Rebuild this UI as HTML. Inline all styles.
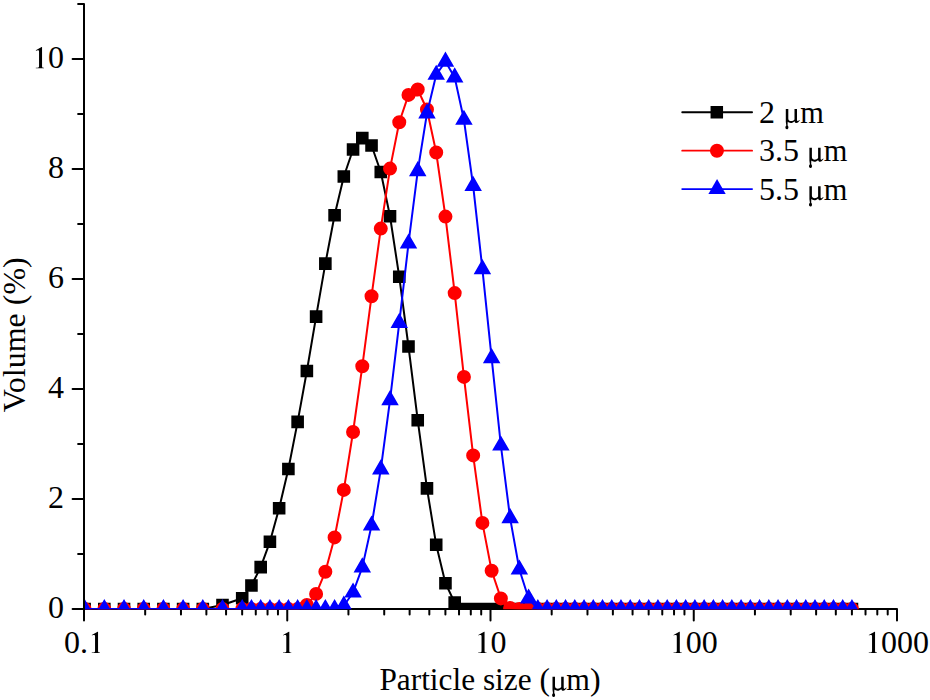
<!DOCTYPE html>
<html><head><meta charset="utf-8"><title>Particle size distribution</title>
<style>html,body{margin:0;padding:0;background:#fff;}body{width:930px;height:700px;overflow:hidden;font-family:"Liberation Serif",serif;}svg{display:block;}</style>
</head><body>
<svg width="930" height="700" viewBox="0 0 930 700">
<defs><clipPath id="c"><rect x="85" y="0" width="812" height="609.3"/></clipPath><path id="mu" d="M0 -13.6L2.5 -13.6L2.5 -4.2C2.5 -2.4 3.8 -1.6 5.3 -1.6C6.6 -1.6 7.9 -2.2 8.7 -3.2L8.7 -13.6L11.2 -13.6L11.2 -2.8C11.2 -1.8 11.6 -1.5 12.2 -1.6L13.8 -2.7L14.1 -2.3C12.9 -0.7 12.1 0.4 10.6 0.4C9.6 0.4 8.9 -0.3 8.7 -1.4C7.7 -0.2 6.4 0.4 5 0.4C3.8 0.4 2.7 -0.1 1.9 -0.8L1.8 2.9C2.9 3.6 3.1 6.7 1.1 6.7C-0.7 6.7 -0.8 4 0.5 3L0 -0.5Z"/><path id="one" d="M10.05 -21.2L10.05 -2C10.05 -0.9 10.6 -0.55 12 -0.5L12 0L3.8 0L3.8 -0.5C6.5 -0.55 7.05 -0.9 7.05 -2L7.05 -16.5C7.05 -17.6 6.6 -18 5.9 -18C5.3 -18 4.6 -17.8 4 -17.6L3.8 -18.1L9.6 -21.2Z"/></defs>
<path d="M84 4V609H897" fill="none" stroke="#000" stroke-width="2.0" stroke-linejoin="miter"/>
<path d="M72.6 609H84M78.1 554H84M72.6 499H84M78.1 444H84M72.6 389H84M78.1 334H84M72.6 279H84M78.1 224H84M72.6 169H84M78.1 114H84M72.6 59H84M78.1 4H84M84 609V620.5M145.18 609V614.6M180.97 609V614.6M206.37 609V614.6M226.07 609V614.6M242.16 609V614.6M255.77 609V614.6M267.55 609V614.6M277.95 609V614.6M287.25 609V620.5M348.43 609V614.6M384.22 609V614.6M409.62 609V614.6M429.32 609V614.6M445.41 609V614.6M459.02 609V614.6M470.8 609V614.6M481.2 609V614.6M490.5 609V620.5M551.68 609V614.6M587.47 609V614.6M612.87 609V614.6M632.57 609V614.6M648.66 609V614.6M662.27 609V614.6M674.05 609V614.6M684.45 609V614.6M693.75 609V620.5M754.93 609V614.6M790.72 609V614.6M816.12 609V614.6M835.82 609V614.6M851.91 609V614.6M865.52 609V614.6M877.3 609V614.6M887.7 609V614.6M897 609V620.5" stroke="#000" stroke-width="2.0" stroke-linecap="round" fill="none"/>
<g clip-path="url(#c)">
<path d="M84.62 609 L104.32 609 L124.02 609 L143.71 609 L163.41 609 L183.11 609 L202.81 609 L222.5 605 L242.2 598.2 L251.44 585.5 L260.68 567.1 L269.92 541.8 L279.15 508.2 L288.39 469 L297.63 421.9 L306.87 371 L316.11 316.6 L325.35 263.6 L334.59 215.3 L343.82 176.5 L353.06 149.5 L362.3 138.1 L371.54 145.5 L380.78 172 L390.02 216.25 L399.26 276.8 L408.49 346.5 L417.73 420.2 L426.97 488.4 L436.21 544.8 L445.45 583.2 L454.69 602.6 L463.93 609 L473.16 609 L482.4 609 L491.64 609 L500.88 609 L510.12 609 L519.36 609 L528.6 609 L537.84 609 L547.07 609 L556.31 609 L565.55 609 L574.79 609 L584.03 609 L593.27 609 L602.51 609 L611.74 609 L620.98 609 L630.22 609 L639.46 609 L648.7 609 L657.94 609 L667.18 609 L676.41 609 L685.65 609 L694.89 609 L704.13 609 L713.37 609 L722.61 609 L731.85 609 L741.08 609 L750.32 609 L759.56 609 L768.8 609 L778.04 609 L787.28 609 L796.52 609 L805.75 609 L814.99 609 L824.23 609 L833.47 609 L842.71 609 L851.95 609" fill="none" stroke="#000" stroke-width="2.0" stroke-linejoin="round"/>
<path d="M78.32 602.7h12.6v12.6h-12.6zM98.02 602.7h12.6v12.6h-12.6zM117.72 602.7h12.6v12.6h-12.6zM137.41 602.7h12.6v12.6h-12.6zM157.11 602.7h12.6v12.6h-12.6zM176.81 602.7h12.6v12.6h-12.6zM196.51 602.7h12.6v12.6h-12.6zM216.2 598.7h12.6v12.6h-12.6zM235.9 591.9h12.6v12.6h-12.6zM245.14 579.2h12.6v12.6h-12.6zM254.38 560.8h12.6v12.6h-12.6zM263.62 535.5h12.6v12.6h-12.6zM272.85 501.9h12.6v12.6h-12.6zM282.09 462.7h12.6v12.6h-12.6zM291.33 415.6h12.6v12.6h-12.6zM300.57 364.7h12.6v12.6h-12.6zM309.81 310.3h12.6v12.6h-12.6zM319.05 257.3h12.6v12.6h-12.6zM328.29 209h12.6v12.6h-12.6zM337.52 170.2h12.6v12.6h-12.6zM346.76 143.2h12.6v12.6h-12.6zM356 131.8h12.6v12.6h-12.6zM365.24 139.2h12.6v12.6h-12.6zM374.48 165.7h12.6v12.6h-12.6zM383.72 209.95h12.6v12.6h-12.6zM392.96 270.5h12.6v12.6h-12.6zM402.19 340.2h12.6v12.6h-12.6zM411.43 413.9h12.6v12.6h-12.6zM420.67 482.1h12.6v12.6h-12.6zM429.91 538.5h12.6v12.6h-12.6zM439.15 576.9h12.6v12.6h-12.6zM448.39 596.3h12.6v12.6h-12.6zM457.63 602.7h12.6v12.6h-12.6zM466.86 602.7h12.6v12.6h-12.6zM476.1 602.7h12.6v12.6h-12.6zM485.34 602.7h12.6v12.6h-12.6zM494.58 602.7h12.6v12.6h-12.6zM503.82 602.7h12.6v12.6h-12.6zM513.06 602.7h12.6v12.6h-12.6zM522.3 602.7h12.6v12.6h-12.6zM531.54 602.7h12.6v12.6h-12.6zM540.77 602.7h12.6v12.6h-12.6zM550.01 602.7h12.6v12.6h-12.6zM559.25 602.7h12.6v12.6h-12.6zM568.49 602.7h12.6v12.6h-12.6zM577.73 602.7h12.6v12.6h-12.6zM586.97 602.7h12.6v12.6h-12.6zM596.21 602.7h12.6v12.6h-12.6zM605.44 602.7h12.6v12.6h-12.6zM614.68 602.7h12.6v12.6h-12.6zM623.92 602.7h12.6v12.6h-12.6zM633.16 602.7h12.6v12.6h-12.6zM642.4 602.7h12.6v12.6h-12.6zM651.64 602.7h12.6v12.6h-12.6zM660.88 602.7h12.6v12.6h-12.6zM670.11 602.7h12.6v12.6h-12.6zM679.35 602.7h12.6v12.6h-12.6zM688.59 602.7h12.6v12.6h-12.6zM697.83 602.7h12.6v12.6h-12.6zM707.07 602.7h12.6v12.6h-12.6zM716.31 602.7h12.6v12.6h-12.6zM725.55 602.7h12.6v12.6h-12.6zM734.78 602.7h12.6v12.6h-12.6zM744.02 602.7h12.6v12.6h-12.6zM753.26 602.7h12.6v12.6h-12.6zM762.5 602.7h12.6v12.6h-12.6zM771.74 602.7h12.6v12.6h-12.6zM780.98 602.7h12.6v12.6h-12.6zM790.22 602.7h12.6v12.6h-12.6zM799.45 602.7h12.6v12.6h-12.6zM808.69 602.7h12.6v12.6h-12.6zM817.93 602.7h12.6v12.6h-12.6zM827.17 602.7h12.6v12.6h-12.6zM836.41 602.7h12.6v12.6h-12.6zM845.65 602.7h12.6v12.6h-12.6z" fill="#000"/>
<path d="M84.62 609 L104.32 609 L124.02 609 L143.71 609 L163.41 609 L183.11 609 L202.81 609 L222.5 609 L242.2 609 L251.44 609 L260.68 609 L269.92 609 L279.15 609 L288.39 609 L297.63 609 L306.87 605 L316.11 593.9 L325.35 571.7 L334.59 537.4 L343.82 489.9 L353.06 432 L362.3 366.3 L371.54 296.2 L380.78 228.6 L390.02 168.6 L399.26 122.3 L408.49 94.9 L417.73 89.5 L426.97 109.5 L436.21 152.5 L445.45 216.6 L454.69 293.1 L463.93 376.9 L473.16 455.4 L482.4 522.9 L491.64 570.7 L500.88 598.4 L510.12 608 L519.36 609 L528.6 609 L537.84 609 L547.07 609 L556.31 609 L565.55 609 L574.79 609 L584.03 609 L593.27 609 L602.51 609 L611.74 609 L620.98 609 L630.22 609 L639.46 609 L648.7 609 L657.94 609 L667.18 609 L676.41 609 L685.65 609 L694.89 609 L704.13 609 L713.37 609 L722.61 609 L731.85 609 L741.08 609 L750.32 609 L759.56 609 L768.8 609 L778.04 609 L787.28 609 L796.52 609 L805.75 609 L814.99 609 L824.23 609 L833.47 609 L842.71 609 L851.95 609" fill="none" stroke="#f00" stroke-width="2.0" stroke-linejoin="round"/>
<path d="M77.62 609a7 7 0 1 0 14 0a7 7 0 1 0 -14 0zM97.32 609a7 7 0 1 0 14 0a7 7 0 1 0 -14 0zM117.02 609a7 7 0 1 0 14 0a7 7 0 1 0 -14 0zM136.71 609a7 7 0 1 0 14 0a7 7 0 1 0 -14 0zM156.41 609a7 7 0 1 0 14 0a7 7 0 1 0 -14 0zM176.11 609a7 7 0 1 0 14 0a7 7 0 1 0 -14 0zM195.81 609a7 7 0 1 0 14 0a7 7 0 1 0 -14 0zM215.5 609a7 7 0 1 0 14 0a7 7 0 1 0 -14 0zM235.2 609a7 7 0 1 0 14 0a7 7 0 1 0 -14 0zM244.44 609a7 7 0 1 0 14 0a7 7 0 1 0 -14 0zM253.68 609a7 7 0 1 0 14 0a7 7 0 1 0 -14 0zM262.92 609a7 7 0 1 0 14 0a7 7 0 1 0 -14 0zM272.15 609a7 7 0 1 0 14 0a7 7 0 1 0 -14 0zM281.39 609a7 7 0 1 0 14 0a7 7 0 1 0 -14 0zM290.63 609a7 7 0 1 0 14 0a7 7 0 1 0 -14 0zM299.87 605a7 7 0 1 0 14 0a7 7 0 1 0 -14 0zM309.11 593.9a7 7 0 1 0 14 0a7 7 0 1 0 -14 0zM318.35 571.7a7 7 0 1 0 14 0a7 7 0 1 0 -14 0zM327.59 537.4a7 7 0 1 0 14 0a7 7 0 1 0 -14 0zM336.82 489.9a7 7 0 1 0 14 0a7 7 0 1 0 -14 0zM346.06 432a7 7 0 1 0 14 0a7 7 0 1 0 -14 0zM355.3 366.3a7 7 0 1 0 14 0a7 7 0 1 0 -14 0zM364.54 296.2a7 7 0 1 0 14 0a7 7 0 1 0 -14 0zM373.78 228.6a7 7 0 1 0 14 0a7 7 0 1 0 -14 0zM383.02 168.6a7 7 0 1 0 14 0a7 7 0 1 0 -14 0zM392.26 122.3a7 7 0 1 0 14 0a7 7 0 1 0 -14 0zM401.49 94.9a7 7 0 1 0 14 0a7 7 0 1 0 -14 0zM410.73 89.5a7 7 0 1 0 14 0a7 7 0 1 0 -14 0zM419.97 109.5a7 7 0 1 0 14 0a7 7 0 1 0 -14 0zM429.21 152.5a7 7 0 1 0 14 0a7 7 0 1 0 -14 0zM438.45 216.6a7 7 0 1 0 14 0a7 7 0 1 0 -14 0zM447.69 293.1a7 7 0 1 0 14 0a7 7 0 1 0 -14 0zM456.93 376.9a7 7 0 1 0 14 0a7 7 0 1 0 -14 0zM466.16 455.4a7 7 0 1 0 14 0a7 7 0 1 0 -14 0zM475.4 522.9a7 7 0 1 0 14 0a7 7 0 1 0 -14 0zM484.64 570.7a7 7 0 1 0 14 0a7 7 0 1 0 -14 0zM493.88 598.4a7 7 0 1 0 14 0a7 7 0 1 0 -14 0zM503.12 608a7 7 0 1 0 14 0a7 7 0 1 0 -14 0zM512.36 609a7 7 0 1 0 14 0a7 7 0 1 0 -14 0zM521.6 609a7 7 0 1 0 14 0a7 7 0 1 0 -14 0zM530.84 609a7 7 0 1 0 14 0a7 7 0 1 0 -14 0zM540.07 609a7 7 0 1 0 14 0a7 7 0 1 0 -14 0zM549.31 609a7 7 0 1 0 14 0a7 7 0 1 0 -14 0zM558.55 609a7 7 0 1 0 14 0a7 7 0 1 0 -14 0zM567.79 609a7 7 0 1 0 14 0a7 7 0 1 0 -14 0zM577.03 609a7 7 0 1 0 14 0a7 7 0 1 0 -14 0zM586.27 609a7 7 0 1 0 14 0a7 7 0 1 0 -14 0zM595.51 609a7 7 0 1 0 14 0a7 7 0 1 0 -14 0zM604.74 609a7 7 0 1 0 14 0a7 7 0 1 0 -14 0zM613.98 609a7 7 0 1 0 14 0a7 7 0 1 0 -14 0zM623.22 609a7 7 0 1 0 14 0a7 7 0 1 0 -14 0zM632.46 609a7 7 0 1 0 14 0a7 7 0 1 0 -14 0zM641.7 609a7 7 0 1 0 14 0a7 7 0 1 0 -14 0zM650.94 609a7 7 0 1 0 14 0a7 7 0 1 0 -14 0zM660.18 609a7 7 0 1 0 14 0a7 7 0 1 0 -14 0zM669.41 609a7 7 0 1 0 14 0a7 7 0 1 0 -14 0zM678.65 609a7 7 0 1 0 14 0a7 7 0 1 0 -14 0zM687.89 609a7 7 0 1 0 14 0a7 7 0 1 0 -14 0zM697.13 609a7 7 0 1 0 14 0a7 7 0 1 0 -14 0zM706.37 609a7 7 0 1 0 14 0a7 7 0 1 0 -14 0zM715.61 609a7 7 0 1 0 14 0a7 7 0 1 0 -14 0zM724.85 609a7 7 0 1 0 14 0a7 7 0 1 0 -14 0zM734.08 609a7 7 0 1 0 14 0a7 7 0 1 0 -14 0zM743.32 609a7 7 0 1 0 14 0a7 7 0 1 0 -14 0zM752.56 609a7 7 0 1 0 14 0a7 7 0 1 0 -14 0zM761.8 609a7 7 0 1 0 14 0a7 7 0 1 0 -14 0zM771.04 609a7 7 0 1 0 14 0a7 7 0 1 0 -14 0zM780.28 609a7 7 0 1 0 14 0a7 7 0 1 0 -14 0zM789.52 609a7 7 0 1 0 14 0a7 7 0 1 0 -14 0zM798.75 609a7 7 0 1 0 14 0a7 7 0 1 0 -14 0zM807.99 609a7 7 0 1 0 14 0a7 7 0 1 0 -14 0zM817.23 609a7 7 0 1 0 14 0a7 7 0 1 0 -14 0zM826.47 609a7 7 0 1 0 14 0a7 7 0 1 0 -14 0zM835.71 609a7 7 0 1 0 14 0a7 7 0 1 0 -14 0zM844.95 609a7 7 0 1 0 14 0a7 7 0 1 0 -14 0z" fill="#f00"/>
<path d="M84.62 609 L104.32 609 L124.02 609 L143.71 609 L163.41 609 L183.11 609 L202.81 609 L222.5 609 L242.2 609 L251.44 609 L260.68 609 L269.92 609 L279.15 609 L288.39 609 L297.63 609 L306.87 609 L316.11 609 L325.35 609 L334.59 609 L343.82 605.7 L353.06 592.5 L362.3 567.4 L371.54 525.5 L380.78 469.4 L390.02 400.1 L399.26 322.9 L408.49 243.5 L417.73 171.2 L426.97 113.4 L436.21 74.8 L445.45 61.6 L454.69 77.4 L463.93 119.8 L473.16 185.9 L482.4 269.1 L491.64 358.2 L500.88 445.5 L510.12 518.1 L519.36 569.5 L528.6 598.5 L537.84 609 L547.07 609 L556.31 609 L565.55 609 L574.79 609 L584.03 609 L593.27 609 L602.51 609 L611.74 609 L620.98 609 L630.22 609 L639.46 609 L648.7 609 L657.94 609 L667.18 609 L676.41 609 L685.65 609 L694.89 609 L704.13 609 L713.37 609 L722.61 609 L731.85 609 L741.08 609 L750.32 609 L759.56 609 L768.8 609 L778.04 609 L787.28 609 L796.52 609 L805.75 609 L814.99 609 L824.23 609 L833.47 609 L842.71 609 L851.95 609" fill="none" stroke="#00f" stroke-width="2.0" stroke-linejoin="round"/>
<path d="M84.62 598.9L93.37 614.05L75.88 614.05zM104.32 598.9L113.07 614.05L95.57 614.05zM124.02 598.9L132.76 614.05L115.27 614.05zM143.71 598.9L152.46 614.05L134.97 614.05zM163.41 598.9L172.16 614.05L154.67 614.05zM183.11 598.9L191.86 614.05L174.36 614.05zM202.81 598.9L211.55 614.05L194.06 614.05zM222.5 598.9L231.25 614.05L213.76 614.05zM242.2 598.9L250.95 614.05L233.45 614.05zM251.44 598.9L260.19 614.05L242.69 614.05zM260.68 598.9L269.42 614.05L251.93 614.05zM269.92 598.9L278.66 614.05L261.17 614.05zM279.15 598.9L287.9 614.05L270.41 614.05zM288.39 598.9L297.14 614.05L279.65 614.05zM297.63 598.9L306.38 614.05L288.88 614.05zM306.87 598.9L315.62 614.05L298.12 614.05zM316.11 598.9L324.86 614.05L307.36 614.05zM325.35 598.9L334.09 614.05L316.6 614.05zM334.59 598.9L343.33 614.05L325.84 614.05zM343.82 595.6L352.57 610.75L335.08 610.75zM353.06 582.4L361.81 597.55L344.32 597.55zM362.3 557.3L371.05 572.45L353.55 572.45zM371.54 515.4L380.29 530.55L362.79 530.55zM380.78 459.3L389.53 474.45L372.03 474.45zM390.02 390L398.76 405.15L381.27 405.15zM399.26 312.8L408 327.95L390.51 327.95zM408.49 233.4L417.24 248.55L399.75 248.55zM417.73 161.1L426.48 176.25L408.99 176.25zM426.97 103.3L435.72 118.45L418.23 118.45zM436.21 64.7L444.96 79.85L427.46 79.85zM445.45 51.5L454.2 66.65L436.7 66.65zM454.69 67.3L463.43 82.45L445.94 82.45zM463.93 109.7L472.67 124.85L455.18 124.85zM473.16 175.8L481.91 190.95L464.42 190.95zM482.4 259L491.15 274.15L473.66 274.15zM491.64 348.1L500.39 363.25L482.9 363.25zM500.88 435.4L509.63 450.55L492.13 450.55zM510.12 508L518.87 523.15L501.37 523.15zM519.36 559.4L528.1 574.55L510.61 574.55zM528.6 588.4L537.34 603.55L519.85 603.55zM537.84 598.9L546.58 614.05L529.09 614.05zM547.07 598.9L555.82 614.05L538.33 614.05zM556.31 598.9L565.06 614.05L547.57 614.05zM565.55 598.9L574.3 614.05L556.8 614.05zM574.79 598.9L583.54 614.05L566.04 614.05zM584.03 598.9L592.78 614.05L575.28 614.05zM593.27 598.9L602.01 614.05L584.52 614.05zM602.51 598.9L611.25 614.05L593.76 614.05zM611.74 598.9L620.49 614.05L603 614.05zM620.98 598.9L629.73 614.05L612.24 614.05zM630.22 598.9L638.97 614.05L621.47 614.05zM639.46 598.9L648.21 614.05L630.71 614.05zM648.7 598.9L657.45 614.05L639.95 614.05zM657.94 598.9L666.68 614.05L649.19 614.05zM667.18 598.9L675.92 614.05L658.43 614.05zM676.41 598.9L685.16 614.05L667.67 614.05zM685.65 598.9L694.4 614.05L676.91 614.05zM694.89 598.9L703.64 614.05L686.14 614.05zM704.13 598.9L712.88 614.05L695.38 614.05zM713.37 598.9L722.12 614.05L704.62 614.05zM722.61 598.9L731.35 614.05L713.86 614.05zM731.85 598.9L740.59 614.05L723.1 614.05zM741.08 598.9L749.83 614.05L732.34 614.05zM750.32 598.9L759.07 614.05L741.58 614.05zM759.56 598.9L768.31 614.05L750.81 614.05zM768.8 598.9L777.55 614.05L760.05 614.05zM778.04 598.9L786.79 614.05L769.29 614.05zM787.28 598.9L796.02 614.05L778.53 614.05zM796.52 598.9L805.26 614.05L787.77 614.05zM805.75 598.9L814.5 614.05L797.01 614.05zM814.99 598.9L823.74 614.05L806.25 614.05zM824.23 598.9L832.98 614.05L815.48 614.05zM833.47 598.9L842.22 614.05L824.72 614.05zM842.71 598.9L851.46 614.05L833.96 614.05zM851.95 598.9L860.69 614.05L843.2 614.05z" fill="#00f"/>
</g>
<path d="M682.2 112.25H752.1" stroke="#000" stroke-width="1.8" stroke-linecap="round"/>
<path d="M710.55 106h12.5v12.5h-12.5z" fill="#000"/>
<path d="M682.2 150.7H752.1" stroke="#f00" stroke-width="1.8" stroke-linecap="round"/>
<path d="M709.95 150.7a7 7 0 1 0 14 0a7 7 0 1 0 -14 0z" fill="#f00"/>
<path d="M682.2 189.05H752.1" stroke="#00f" stroke-width="1.8" stroke-linecap="round"/>
<path d="M717.05 179.05L725.71 194.05L708.39 194.05z" fill="#00f"/>
<g font-family="Liberation Serif, serif" font-size="32" fill="#000">
<text x="48" y="618.3">0</text>
<text x="48" y="508.3">2</text>
<text x="48" y="398.3">4</text>
<text x="48" y="288.3">6</text>
<text x="48" y="178.3">8</text>
<use href="#one" x="32" y="68.3"/>
<text x="48" y="68.3">0</text>
<text x="64" y="653">0</text>
<text x="80" y="653">.</text>
<use href="#one" x="88" y="653"/>
<use href="#one" x="279.25" y="653"/>
<use href="#one" x="474.5" y="653"/>
<text x="490.5" y="653">0</text>
<use href="#one" x="669.75" y="653"/>
<text x="685.75" y="653">0</text>
<text x="701.75" y="653">0</text>
<use href="#one" x="865" y="653"/>
<text x="881" y="653">0</text>
<text x="897" y="653">0</text>
<text x="913" y="653">0</text>
<text transform="translate(379.4 690.3) scale(0.9795 1)">Particle size (</text>
<use href="#mu" x="552.5" y="690.3"/>
<text transform="translate(566.36 690.3) scale(0.9486 1)">m</text>
<text x="590.05" y="690.3">)</text>
<text transform="translate(24.9 334.7) rotate(-90)" text-anchor="middle">Volume (%)</text>
<text x="759" y="122.6">2</text>
<use href="#mu" x="785.8" y="122.6"/>
<text transform="translate(800.16 122.6) scale(0.9486 1)">m</text>
<text x="759" y="161.3">3.5</text>
<use href="#mu" x="809.4" y="161.3"/>
<text transform="translate(823.76 161.3) scale(0.9486 1)">m</text>
<text x="759" y="199.8">5.5</text>
<use href="#mu" x="809.4" y="199.8"/>
<text transform="translate(823.76 199.8) scale(0.9486 1)">m</text>
</g>
</svg>
</body></html>
